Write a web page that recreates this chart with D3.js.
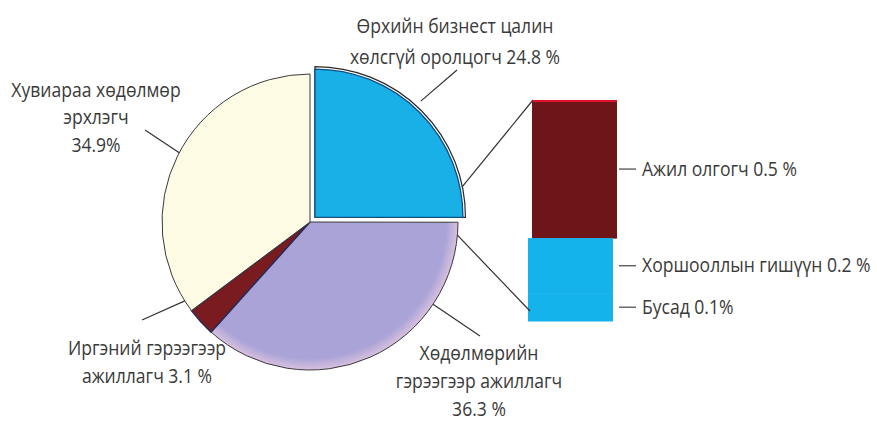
<!DOCTYPE html>
<html>
<head>
<meta charset="utf-8">
<script src="https://cdn.jsdelivr.net/npm/d3@7/dist/d3.min.js"></script>
<style>
  html, body { margin: 0; padding: 0; background: #ffffff; }
  svg { display: block; }
  text { font-family: "Open Sans", "Roboto", "DejaVu Sans", sans-serif; fill: #3a3a3a; font-size: 20.5px; }
</style>
</head>
<body>
<svg id="chart" width="877" height="421"></svg>
<script>
// ---- data ----
const pieCategories = ["Өрхийн бизнест цалин хөлсгүй оролцогч", "Хөдөлмөрийн гэрээгээр ажиллагч", "Иргэний гэрээгээр ажиллагч", "Хувиараа хөдөлмөр эрхлэгч"];
const pieValues = [24.8, 36.3, 3.1, 34.9];
const pieLabelLines = [
  ["Өрхийн бизнест цалин", "хөлсгүй оролцогч {v} %"],
  ["Хөдөлмөрийн", "гэрээгээр ажиллагч", "{v} %"],
  ["Иргэний гэрээгээр", "ажиллагч  {v} %"],
  ["Хувиараа хөдөлмөр", "эрхлэгч", "{v}%"]
];
const barCategories = ["Ажил олгогч", "Хоршооллын гишүүн", "Бусад"];
const barValues = [0.5, 0.2, 0.1];
const barLabelFormats = ["{v} %", "{v} %", "{v}%"];

// ---- layout ----
const svg = d3.select("#chart");
const cx = 310, cy = 222, R = 148;
const colors = ["#19afe7", "#a9a3d7", "#7a1b20", "#fdfbe3"];
const explode = [7, 0, 0, 0];

// condense factor so text matches the narrow typeface of the reference
const probe = svg.append("text").text("Ажил олгогч 0.5 %");
const K = 155 / probe.node().getComputedTextLength();
probe.remove();
function condense(sel) {
  sel.each(function () {
    const t = d3.select(this);
    const x = +t.attr("x") || 0, y = +t.attr("y") || 0;
    t.attr("x", 0).attr("y", 0).attr("transform", `translate(${x},${y}) scale(${K},1)`);
  });
}

const defs = svg.append("defs");
const grad = defs.append("radialGradient").attr("id", "purpleGrad")
  .attr("gradientUnits", "userSpaceOnUse").attr("cx", 0).attr("cy", 0).attr("r", R);
grad.append("stop").attr("offset", "0.92").attr("stop-color", "#a9a3d7");
grad.append("stop").attr("offset", "1").attr("stop-color", "#d9c0df");

const pie = d3.pie().sort(null).value(d => d);
const arcs = pie(pieValues);
const arc = d3.arc().innerRadius(0).outerRadius(R);
const arcOut = d3.arc().innerRadius(0).outerRadius(R + 2.5);

const g = svg.append("g").attr("transform", `translate(${cx},${cy})`);

arcs.forEach((a, i) => {
  const mid = (a.startAngle + a.endAngle) / 2;
  const dx = Math.sin(mid) * explode[i], dy = -Math.cos(mid) * explode[i];
  const sg = g.append("g").attr("transform", `translate(${dx},${dy})`);
  if (i === 0) {
    sg.append("path").attr("d", arcOut(a)).attr("fill", "#ffffff")
      .attr("stroke", "#2a2a2a").attr("stroke-width", 1.2);
    sg.append("path").attr("d", arc(a)).attr("fill", colors[i])
      .attr("stroke", "#0d4f8a").attr("stroke-width", 1.3);
  } else {
    sg.append("path").attr("d", arc(a))
      .attr("fill", i === 1 ? "url(#purpleGrad)" : colors[i])
      .attr("stroke", i === 2 ? "#2b2a55" : "#3a3a3a")
      .attr("stroke-width", i === 2 ? 1.6 : 1);
  }
});

// ---- bar of pie ----
const barTotal = d3.sum(barValues);
const yBar = d3.scaleLinear().domain([0, barTotal]).range([321, 100]);
const barX0 = 532, barW = 85, barShift = [0, -4, -4];
const barColors = ["#6e151a", "#14b3ec", "#14b3ec"];
let cum = barTotal;
const segs = barValues.map((v, i) => {
  const top = cum; cum -= v;
  return { i, v, y0: yBar(top), y1: yBar(cum) };
});
segs.forEach(s => {
  svg.append("rect").attr("x", barX0 + barShift[s.i]).attr("y", s.y0)
    .attr("width", barW).attr("height", s.y1 - s.y0 + 0.5)
    .attr("fill", barColors[s.i]);
});
svg.append("line").attr("x1", barX0).attr("x2", barX0 + barW)
  .attr("y1", yBar(barTotal) + 1).attr("y2", yBar(barTotal) + 1)
  .attr("stroke", "#e3132b").attr("stroke-width", 2);

// bar labels via axis
const labelY = segs.map(s => (s.y0 + s.y1) / 2);
const barAxis = d3.axisRight(d3.scalePoint().domain(barCategories).range([labelY[0], labelY[2]]))
  .tickSize(17).tickPadding(6)
  .tickFormat((d, i) => d + " " + barLabelFormats[i].replace("{v}", barValues[i]));
const ax = svg.append("g").attr("transform", `translate(${barX0 + barW + 2},0)`).call(barAxis);
ax.select(".domain").remove();
ax.selectAll(".tick").attr("transform", (d, i) => `translate(0,${labelY[i]})`);
ax.selectAll(".tick line").attr("stroke", "#444").attr("stroke-width", 1.2);
ax.selectAll(".tick text").attr("fill", "#3a3a3a").attr("font-size", 20.5)
  .attr("font-family", "Open Sans, Roboto, DejaVu Sans, sans-serif").call(condense);

// connector lines from exploded slice to bar
const b = arcs[0];
const bdx = Math.sin((b.startAngle + b.endAngle) / 2) * explode[0];
const bdy = -Math.cos((b.startAngle + b.endAngle) / 2) * explode[0];
const pA = d3.arc().innerRadius(R + 2).outerRadius(R + 2).centroid({startAngle: 1.37, endAngle: 1.37});
svg.append("line").attr("x1", cx + bdx + pA[0]).attr("y1", cy + bdy + pA[1])
  .attr("x2", barX0 + 1).attr("y2", yBar(barTotal)).attr("stroke", "#333").attr("stroke-width", 1.2);
const pB = d3.arc().innerRadius(R).outerRadius(R).centroid({startAngle: 1.66, endAngle: 1.66});
svg.append("line").attr("x1", cx + pB[0]).attr("y1", cy + pB[1])
  .attr("x2", barX0 - 2).attr("y2", yBar(0) - 10).attr("stroke", "#333").attr("stroke-width", 1.2);

// ---- pie labels ----
const labelPos = [
  { x: 455, ys: [33, 64], anchor: [0.74, R + 9], end: [457, 70] },
  { x: 479, ys: [360, 388, 416], anchor: [2.16, R], end: [480, 336] },
  { x: 147, ys: [355, 383], anchor: [4.15, R], end: [142, 320] },
  { x: 96, ys: [97, 124, 152], anchor: [5.2, R], end: [145, 130] }
];
arcs.forEach((a, i) => {
  const p = labelPos[i];
  pieLabelLines[i].forEach((ln, k) => {
    svg.append("text").attr("text-anchor", "middle").attr("x", p.x).attr("y", p.ys[k])
      .text(ln.replace("{v}", pieValues[i])).call(condense);
  });
  const ang = p.anchor[0];
  const mid = (a.startAngle + a.endAngle) / 2;
  const ex = Math.sin(mid) * explode[i], ey = -Math.cos(mid) * explode[i];
  const sx = cx + ex + Math.sin(ang) * p.anchor[1], sy = cy + ey - Math.cos(ang) * p.anchor[1];
  svg.append("line").attr("x1", sx).attr("y1", sy).attr("x2", p.end[0]).attr("y2", p.end[1])
    .attr("stroke", "#333").attr("stroke-width", 1.2);
});
</script>
</body>
</html>
